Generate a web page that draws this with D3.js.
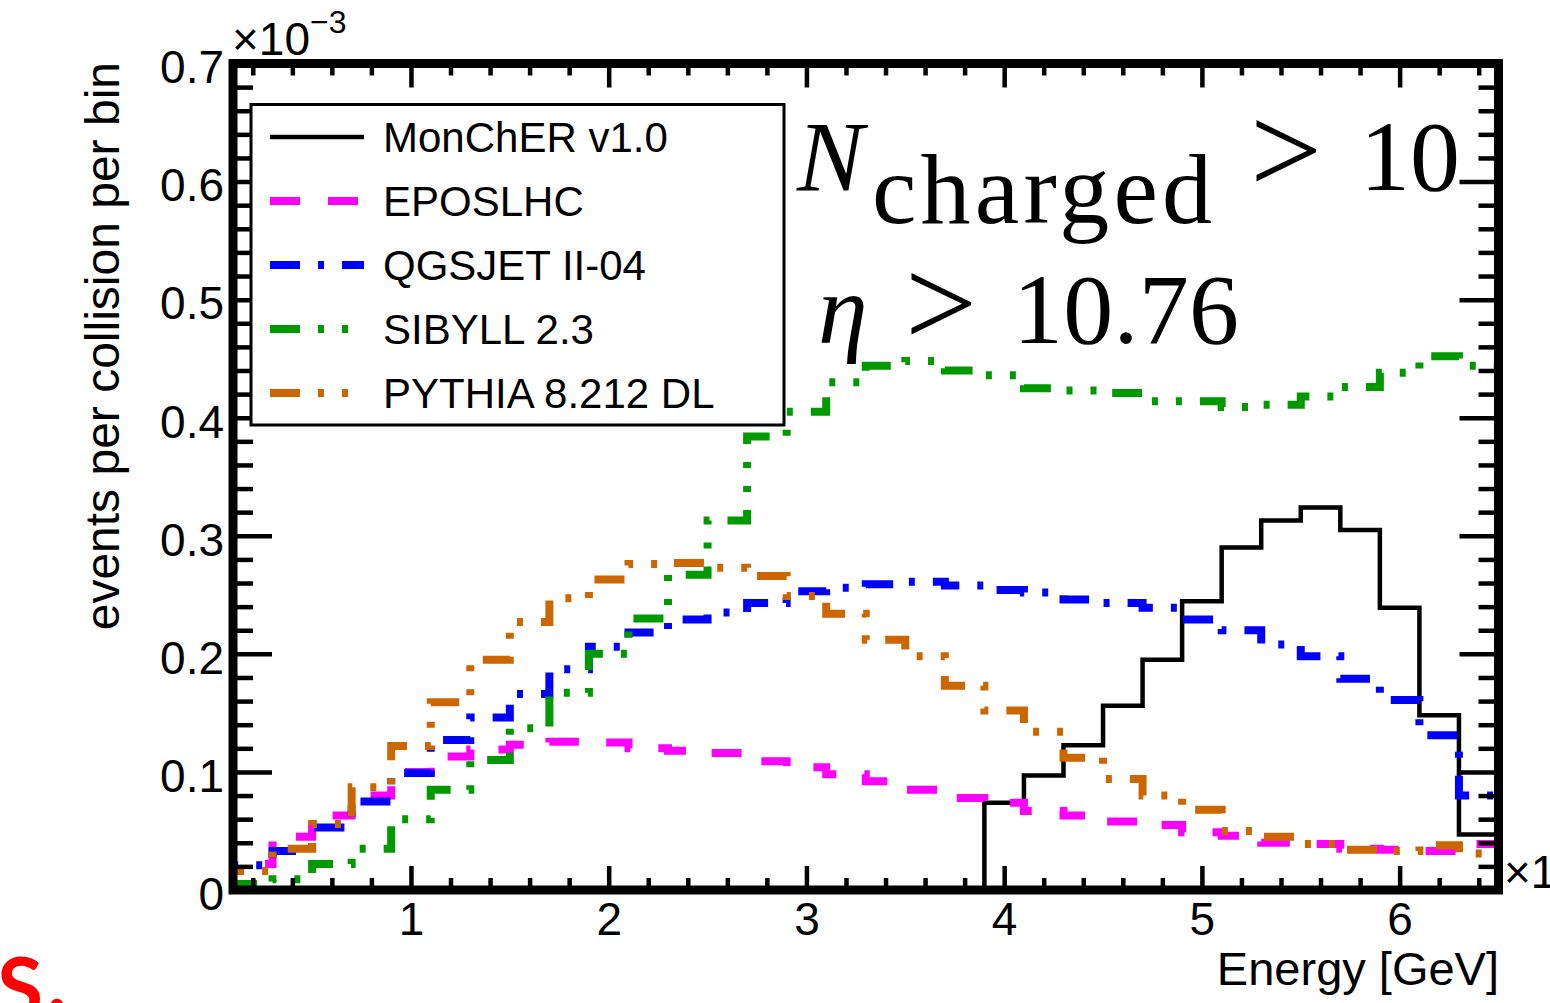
<!DOCTYPE html>
<html>
<head>
<meta charset="utf-8">
<script src="https://cdn.jsdelivr.net/npm/d3@7"></script>
<style>
  body { margin: 0; background: #fff; }
  svg { display: block; }
  text { font-family: "Liberation Sans", Arial, sans-serif; }
</style>
</head>
<body>
<svg id="chart"></svg>
<script>
// bin low edges (x 10^3 GeV), bin width 0.2
var binLow = [0.1, 0.3, 0.5, 0.7, 0.9, 1.1, 1.3, 1.5, 1.7, 1.9, 2.1, 2.3, 2.5, 2.7, 2.9, 3.1,
              3.3, 3.5, 3.7, 3.9, 4.1, 4.3, 4.5, 4.7, 4.9, 5.1, 5.3, 5.5, 5.7, 5.9, 6.1, 6.3];
var binWidth = 0.2;

// events per collision per bin (x 10^-3)
var moncher = [0, 0, 0, 0, 0, 0, 0, 0, 0, 0, 0, 0, 0, 0, 0, 0,
               0, 0, 0, 0.074, 0.097, 0.1225, 0.156, 0.195, 0.2445, 0.290, 0.313, 0.324, 0.305, 0.239, 0.148, 0.047];
var eposlhc = [0.022, 0.045, 0.063, 0.080, 0.100, 0.113, 0.119, 0.123, 0.1255, 0.125, 0.120, 0.118, 0.116, 0.109, 0.104, 0.098,
               0.092, 0.085, 0.078, 0.074, 0.067, 0.063, 0.058, 0.055, 0.049, 0.046, 0.040, 0.039, 0.035, 0.034, 0.033, 0.039];
var qgsjet  = [0.021, 0.033, 0.053, 0.075, 0.099, 0.127, 0.146, 0.166, 0.187, 0.206, 0.218, 0.229, 0.235, 0.243, 0.253, 0.256,
               0.259, 0.261, 0.258, 0.254, 0.252, 0.246, 0.243, 0.239, 0.229, 0.220, 0.208, 0.198, 0.179, 0.161, 0.131, 0.080];
var sibyll  = [0.005, 0.009, 0.022, 0.035, 0.060, 0.085, 0.110, 0.137, 0.167, 0.200, 0.230, 0.267, 0.313, 0.384, 0.405, 0.430,
               0.444, 0.448, 0.440, 0.436, 0.425, 0.423, 0.421, 0.414, 0.414, 0.409, 0.411, 0.418, 0.426, 0.438, 0.452, 0.444];
var pythia  = [0.016, 0.035, 0.056, 0.087, 0.122, 0.159, 0.195, 0.227, 0.247, 0.263, 0.276, 0.277, 0.273, 0.266, 0.249, 0.234,
               0.212, 0.198, 0.173, 0.152, 0.134, 0.112, 0.094, 0.080, 0.068, 0.050, 0.045, 0.039, 0.034, 0.033, 0.038, 0.031];

var seriesNames = ["MonChER v1.0", "EPOSLHC", "QGSJET II-04", "SIBYLL 2.3", "PYTHIA 8.212 DL"];
var xTickLabels = [1, 2, 3, 4, 5, 6];
var yTickLabels = [0, 0.1, 0.2, 0.3, 0.4, 0.5, 0.6, 0.7];

var width = 1550, height = 1003;

var svg = d3.select("#chart")
  .attr("width", width)
  .attr("height", height)
  .attr("viewBox", "0 0 " + width + " " + height);

svg.append("rect").attr("width", width).attr("height", height).attr("fill", "#fff");

var xScale = d3.scaleLinear().domain([0.1, 6.5]).range([233, 1498.5]);
var yScale = d3.scaleLinear().domain([0, 0.7]).range([890, 63.5]);

var styles = [
  {data: moncher, color: "#000000", w: 4.5, dash: null},
  {data: eposlhc, color: "#ff00ff", w: 8, dash: "30,28"},
  {data: qgsjet,  color: "#0000ff", w: 8, dash: "30,18,6,18"},
  {data: sibyll,  color: "#009900", w: 8, dash: "30,18,6,18,6,18"},
  {data: pythia,  color: "#cc6600", w: 8, dash: "30,18,6,18,6,18"}
];

// histogram outline as steps
function histPoints(vals) {
  var pts = [[binLow[0], 0]];
  vals.forEach(function(v, i) {
    pts.push([binLow[i], v]);
    pts.push([binLow[i] + binWidth, v]);
  });
  pts.push([binLow[binLow.length - 1] + binWidth, 0]);
  return pts;
}

var line = d3.line()
  .x(function(d) { return xScale(d[0]); })
  .y(function(d) { return yScale(d[1]); });

var g = svg.append("g");
styles.forEach(function(s) {
  g.append("path")
    .attr("d", line(histPoints(s.data)))
    .attr("fill", "none")
    .attr("stroke", s.color)
    .attr("stroke-width", s.w)
    .attr("stroke-dasharray", s.dash)
    .attr("stroke-linejoin", "miter");
});

// axes, ticks drawn inside the frame
var yMinor = d3.range(0, 0.7001, 0.02).filter(function(v) { return Math.abs(v * 10 - Math.round(v * 10)) > 1e-6; });
var xMinor = d3.range(0.2, 6.5, 0.2).filter(function(v) { return Math.abs(v - Math.round(v)) > 1e-6; });

function styleAxis(sel) {
  sel.select(".domain").remove();
  sel.selectAll("line").attr("stroke", "#000").attr("stroke-width", 4.5);
  sel.selectAll("text").attr("fill", "#000").style("font-size", "46px");
}

var leftAx = svg.append("g").attr("transform", "translate(233,0)")
  .call(d3.axisLeft(yScale).tickValues(yTickLabels).tickSize(-39).tickPadding(9)
    .tickFormat(function(d) { return d === 0 ? "0" : d3.format(".1f")(d); }));
styleAxis(leftAx);
leftAx.selectAll("text").attr("dy", "0.42em");
styleAxis(svg.append("g").attr("transform", "translate(233,0)")
  .call(d3.axisLeft(yScale).tickValues(yMinor).tickSize(-20).tickFormat("")));

styleAxis(svg.append("g").attr("transform", "translate(1498.5,0)")
  .call(d3.axisRight(yScale).tickValues(yTickLabels).tickSize(-39).tickFormat("")));
styleAxis(svg.append("g").attr("transform", "translate(1498.5,0)")
  .call(d3.axisRight(yScale).tickValues(yMinor).tickSize(-20).tickFormat("")));

var botAx = svg.append("g").attr("transform", "translate(0,890)")
  .call(d3.axisBottom(xScale).tickValues(xTickLabels).tickSize(-24).tickPadding(12)
    .tickFormat(d3.format("d")));
styleAxis(botAx);
styleAxis(svg.append("g").attr("transform", "translate(0,890)")
  .call(d3.axisBottom(xScale).tickValues(xMinor).tickSize(-12).tickFormat("")));

styleAxis(svg.append("g").attr("transform", "translate(0,63.5)")
  .call(d3.axisTop(xScale).tickValues(xTickLabels).tickSize(-24).tickFormat("")));
styleAxis(svg.append("g").attr("transform", "translate(0,63.5)")
  .call(d3.axisTop(xScale).tickValues(xMinor).tickSize(-12).tickFormat("")));

// frame
svg.append("rect")
  .attr("x", 233).attr("y", 63.5)
  .attr("width", 1498.5 - 233).attr("height", 890 - 63.5)
  .attr("fill", "none").attr("stroke", "#000").attr("stroke-width", 9);

// exponent labels
var ex = svg.append("text").attr("x", 232).attr("y", 55).style("font-size", "46px");
ex.append("tspan").text("\u00d710");
ex.append("tspan").attr("dy", -22).style("font-size", "32px").text("\u22123");

var ex2 = svg.append("text").attr("x", 1504).attr("y", 888).style("font-size", "46px");
ex2.append("tspan").text("\u00d710");
ex2.append("tspan").attr("dy", -22).style("font-size", "32px").text("3");

// axis titles
svg.append("text")
  .attr("transform", "translate(119,62) rotate(-90)")
  .attr("text-anchor", "end")
  .style("font-size", "48px")
  .text("events per collision per bin");

svg.append("text")
  .attr("x", 1499).attr("y", 985)
  .attr("text-anchor", "end")
  .style("font-size", "47px")
  .text("Energy [GeV]");

// legend
var legend = svg.append("g");
legend.append("rect")
  .attr("x", 251).attr("y", 104.5).attr("width", 533).attr("height", 320.5)
  .attr("fill", "#fff").attr("stroke", "#000").attr("stroke-width", 3);

var rowY = d3.scaleLinear().domain([0, 4]).range([137, 393]);
styles.forEach(function(s, i) {
  legend.append("line")
    .attr("x1", 270).attr("x2", 364)
    .attr("y1", rowY(i)).attr("y2", rowY(i))
    .attr("stroke", s.color)
    .attr("stroke-width", s.w)
    .attr("stroke-dasharray", s.dash);
  legend.append("text")
    .attr("x", 383).attr("y", rowY(i) + 15)
    .style("font-size", "42px")
    .text(seriesNames[i]);
});

// cut text annotations
var serif = '"Liberation Serif", "Times New Roman", serif';
svg.append("text").attr("x", 797).attr("y", 190).style("font-family", serif)
  .style("font-size", "100px").style("font-style", "italic").text("N");
svg.append("text").attr("x", 872).attr("y", 223).style("font-family", serif)
  .style("font-size", "100px").attr("textLength", 340).text("charged");
svg.append("text").attr("x", 1250).attr("y", 193).style("font-family", serif)
  .style("font-size", "128px").text(">");
svg.append("text").attr("x", 1360).attr("y", 190).style("font-family", serif)
  .style("font-size", "100px").text("10");

svg.append("text").attr("x", 818).attr("y", 343).style("font-family", serif)
  .style("font-size", "100px").style("font-style", "italic").text("\u03b7");
svg.append("text").attr("x", 905).attr("y", 346).style("font-family", serif)
  .style("font-size", "128px").text(">");
svg.append("text").attr("x", 1013).attr("y", 343).style("font-family", serif)
  .style("font-size", "100px").attr("textLength", 226).text("10.76");

// red fragment at the lower left corner
var red = svg.append("text").attr("x", -3).attr("y", 1018)
  .style("font-family", "Lato, sans-serif").style("font-weight", "bold")
  .style("font-size", "84px").attr("fill", "#ff0000");
red.append("tspan").text("S");
red.append("tspan").attr("dx", 4).attr("dy", -7).text(".");
</script>
</body>
</html>
